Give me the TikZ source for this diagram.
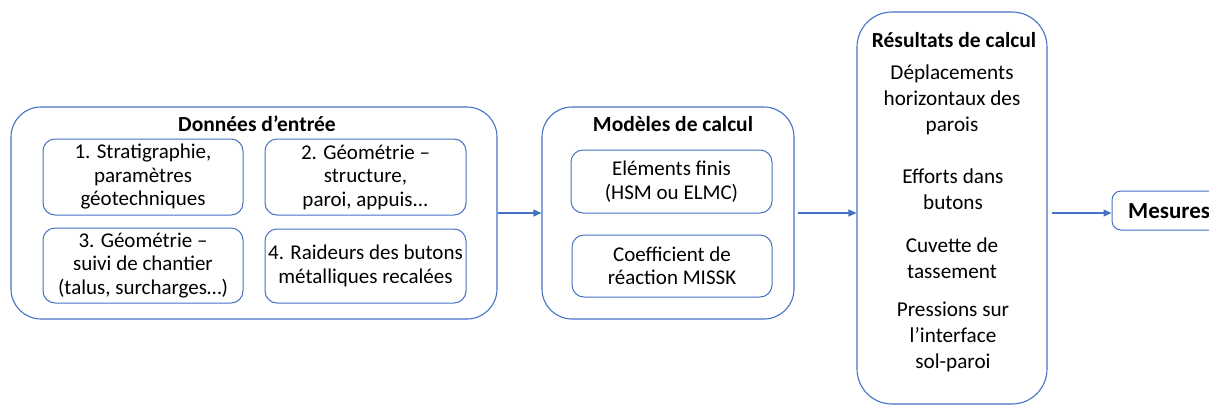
\documentclass[tikz,border=0pt]{standalone}
\usepackage{fontspec}
\setmainfont{Carlito}
\usetikzlibrary{arrows.meta}
\definecolor{bl}{HTML}{4472C4}
\begin{document}
\begin{tikzpicture}[x=1pt,y=-1pt,
  bigbox/.style={draw=bl,line width=1.1pt,rounded corners=30pt,inner sep=0pt},
  smallbox/.style={draw=bl,line width=1pt,rounded corners=12pt,inner sep=0pt,align=center,
     font=\fontsize{21}{23.5}\selectfont},
  titletxt/.style={font=\fontsize{21.5}{24}\selectfont\bfseries,inner sep=0pt},
  restxt/.style={font=\fontsize{21.2}{26}\selectfont,align=center,inner sep=0pt},
  flow/.style={draw=bl,line width=1.1pt,-{Triangle[length=8pt,width=7pt]}}]
\useasboundingbox (0,0) rectangle (1209,405);
\clip (0,0) rectangle (1209,405);
% input data
\node[bigbox,minimum width=486pt,minimum height=212pt] (in) at (254,213) {};
\node[titletxt] (intitle) at (257,124) {Données d’entrée};
\node[smallbox,minimum width=200pt,minimum height=76pt] (a1) at (143,177) {1. Stratigraphie,\\paramètres\\géotechniques};
\node[smallbox,minimum width=201pt,minimum height=76pt] (a2) at (365.5,177) {2. Géométrie –\\structure,\\paroi, appuis...};
\node[smallbox,minimum width=200pt,minimum height=75pt] (a3) at (143,265.5) {3. Géométrie –\\suivi de chantier\\(talus, surcharges…)};
\node[smallbox,minimum width=201pt,minimum height=74pt] (a4) at (365.5,266) {4. Raideurs des butons\\métalliques recalées};
% models
\node[bigbox,minimum width=252pt,minimum height=212pt] (mod) at (668,213) {};
\node[titletxt] (modtitle) at (673,124) {Modèles de calcul};
\node[smallbox,minimum width=201pt,minimum height=63pt] (b1) at (671.5,181.5) {Eléments finis\\(HSM ou ELMC)};
\node[smallbox,minimum width=200pt,minimum height=62pt] (b2) at (672,266) {Coefficient de\\réaction MISSK};
% results
\node[bigbox,rounded corners=35pt,minimum width=190pt,minimum height=392pt] (res) at (952,208) {};
\node[titletxt] (restitle) at (954,40) {Résultats de calcul};
\node[restxt] (r1) at (952,100) {Déplacements\\horizontaux des\\parois};
\node[restxt] (r2) at (953,189) {Efforts dans\\butons};
\node[restxt] (r3) at (952,258) {Cuvette de\\tassement};
\node[restxt] (r4) at (953,337) {Pressions sur\\l’interface\\sol-paroi};
% measures
\node[draw=bl,line width=1pt,rounded corners=9pt,minimum width=108pt,minimum height=39pt,inner sep=0pt] (mes) at (1166,210.5) {};
\node[titletxt,font=\fontsize{23}{26}\selectfont\bfseries,anchor=west] (mestxt) at (1128,211) {Mesures};
% connectors
\draw[flow] (in.east |- 0,213) -- (mod.west |- 0,213);
\draw[flow,shorten <=3pt] (mod.east |- 0,213) -- (res.west |- 0,213);
\draw[flow,shorten <=4pt] (res.east |- 0,213) -- (mes.west |- 0,213);
\end{tikzpicture}
\end{document}
